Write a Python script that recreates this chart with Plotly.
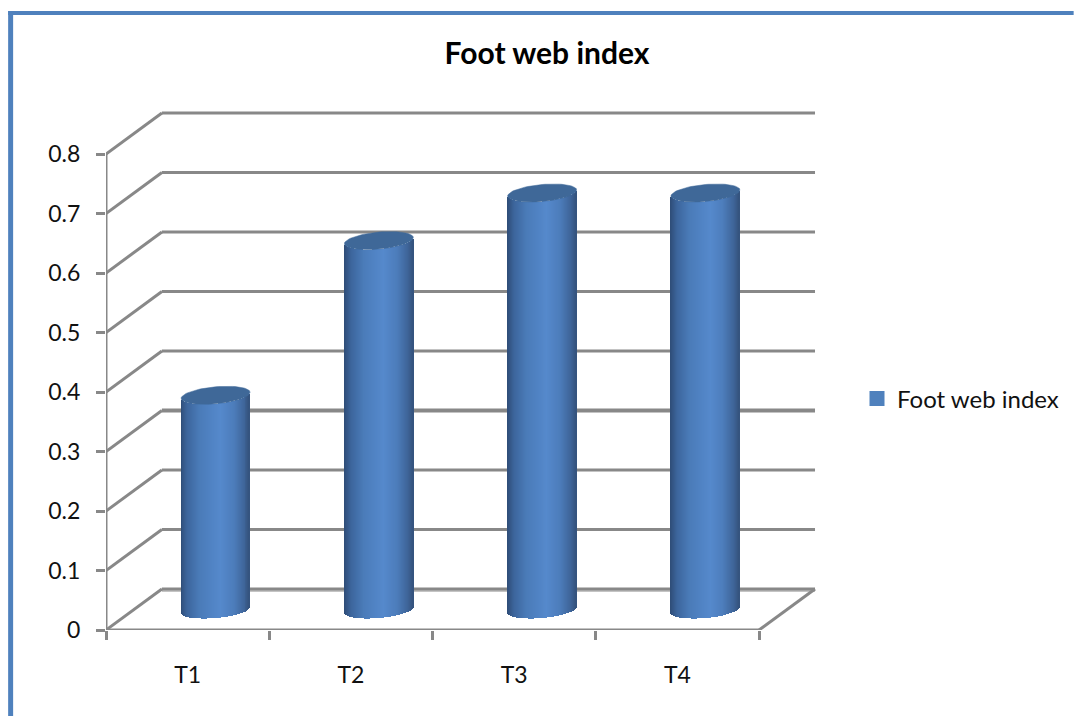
import numpy as np
import plotly.graph_objects as go

# Chart data
categories = ["T1", "T2", "T3", "T4"]
values = [0.36, 0.62, 0.70, 0.70]
y_ticks = [0, 0.1, 0.2, 0.3, 0.4, 0.5, 0.6, 0.7, 0.8]
series_name = "Foot web index"

# Page and plot frame, in pixels
W, H = 1075, 716
PLOT_L, PLOT_R, PLOT_T, PLOT_B = 106, 822, 100, 630
PX_PER_CAT = 163.5
PX_PER_UNIT = 595.0

# Oblique projection: how far the back wall sits from the front plane
DEPTH_DX = 56 / PX_PER_CAT
DEPTH_DY = 41 / PX_PER_UNIT

# Cylinder proportions
HALF_W = 34.5 / PX_PER_CAT
CAP_B = 8.5 / PX_PER_UNIT
CAP_TILT = 3 / PX_PER_UNIT
STRIPS = 70

GRID = "#888888"
BLUE = "#4F81BD"
CAP = "#3F6898"
FRAME = "#4F81BD"
FONT = "Lato, 'Noto Sans', sans-serif"

x_lo = -0.5
x_hi = x_lo + (PLOT_R - PLOT_L) / PX_PER_CAT
y_hi = (PLOT_B - PLOT_T) / PX_PER_UNIT
n_cat = len(categories)
x_front_r = n_cat - 0.5


def shade(t):
    """Horizontal cylinder shading for t in [-1, 1]."""
    stops_t = [-1.0, -0.8, -0.45, 0.15, 0.55, 0.85, 1.0]
    stops_c = [
        (46, 76, 118), (60, 101, 156), (74, 123, 184),
        (85, 137, 204), (76, 124, 186), (62, 100, 152), (52, 82, 124),
    ]
    return "rgb({},{},{})".format(
        *(int(round(np.interp(t, stops_t, [c[i] for c in stops_c]))) for i in range(3))
    )


def line(x0, y0, x1, y1, width=3, color=GRID):
    return dict(
        type="line", xref="x", yref="y", x0=x0, y0=y0, x1=x1, y1=y1,
        line=dict(color=color, width=width), layer="below",
    )


shapes = []

# Floor's lighter bottom edge on the back wall
shapes.append(line(x_lo + DEPTH_DX, DEPTH_DY - 2 / PX_PER_UNIT,
                   x_front_r + DEPTH_DX, DEPTH_DY - 2 / PX_PER_UNIT, 2, "#c4c4c4"))

# Side wall and back wall gridlines
for v in y_ticks:
    width = 4 if v == 0.3 else 3
    shapes.append(line(x_lo, v, x_lo + DEPTH_DX, v + DEPTH_DY))
    shapes.append(line(x_lo + DEPTH_DX, v + DEPTH_DY, x_front_r + DEPTH_DX, v + DEPTH_DY, width))

# Floor edges and front axis lines
shapes.append(line(x_front_r, 0, x_front_r + DEPTH_DX, DEPTH_DY))
shapes.append(line(x_lo, 0, x_front_r, 0, 3))
shapes.append(line(x_lo, 0, x_lo, y_ticks[-1]))


# Page frame: heavy rule along the left and top edges
def frame_rect(x0, y0, x1, y1):
    span_x = PLOT_R - PLOT_L
    span_y = PLOT_B - PLOT_T
    return dict(
        type="rect", xref="paper", yref="paper", layer="above",
        x0=(x0 - PLOT_L) / span_x, x1=(x1 - PLOT_L) / span_x,
        y0=(PLOT_B - y0) / span_y, y1=(PLOT_B - y1) / span_y,
        fillcolor=FRAME, line=dict(width=0),
    )


shapes.append(frame_rect(8, 11, 13, H))
shapes.append(frame_rect(8, 11, W, 15))

fig = go.Figure()

# Each cylinder is a run of narrow shaded bars with a rounded lower edge
ts = (np.arange(STRIPS) + 0.5) / STRIPS * 2 - 1
strip_w = 2 * HALF_W / STRIPS
base_center = DEPTH_DY / 2
for i, v in enumerate(values):
    cx = i + DEPTH_DX / 2
    curve = CAP_B * np.sqrt(1 - ts ** 2)
    tilt = CAP_TILT * ts
    fig.add_trace(go.Bar(
        x=cx + ts * HALF_W,
        y=np.full(STRIPS, float(v)),
        base=base_center + tilt - curve,
        width=strip_w * 1.25,
        marker=dict(color=[shade(t) for t in ts], line=dict(width=0)),
        showlegend=False,
        hoverinfo="skip",
    ))

# Elliptical top of each cylinder
theta = np.linspace(0, 2 * np.pi, 73)
for i, v in enumerate(values):
    cx = i + DEPTH_DX / 2
    cs, sn = np.cos(theta), np.sin(theta)
    fig.add_trace(go.Scatter(
        x=cx + HALF_W * cs,
        y=v + base_center + CAP_TILT * cs + CAP_B * sn,
        mode="lines",
        fill="toself",
        fillcolor=CAP,
        line=dict(color=CAP, width=0.5),
        showlegend=False,
        hoverinfo="skip",
    ))

# Legend entry
fig.add_trace(go.Scatter(
    x=[None], y=[None], mode="markers", name=series_name,
    marker=dict(symbol="square", size=15, color=BLUE),
))

fig.update_layout(
    width=W, height=H,
    autosize=False,
    margin=dict(l=PLOT_L, r=W - PLOT_R, t=PLOT_T, b=H - PLOT_B, pad=0),
    paper_bgcolor="white",
    plot_bgcolor="rgba(0,0,0,0)",
    barmode="overlay",
    bargap=0,
    font=dict(family=FONT, color="#111111"),
    title=dict(
        text="<b>Foot web index</b>",
        x=547 / W, y=1 - 53 / H, xanchor="center", yanchor="middle",
        font=dict(size=30, family=FONT, color="#000000"),
    ),
    xaxis=dict(
        range=[x_lo, x_hi],
        tickmode="array",
        tickvals=list(range(n_cat)),
        ticktext=categories,
        ticks="",
        ticklen=0,
        ticklabelstandoff=29,
        tickfont=dict(size=23, family=FONT, color="#111111"),
        showgrid=False,
        zeroline=False,
        showline=False,
        minor=dict(
            tickmode="array",
            tickvals=[k - 0.5 for k in range(n_cat + 1)],
            ticks="outside", ticklen=9, tickwidth=3, tickcolor=GRID,
            showgrid=False,
        ),
    ),
    yaxis=dict(
        range=[0, y_hi],
        tickmode="array",
        tickvals=y_ticks,
        ticktext=[f"{t:g}" for t in y_ticks],
        ticks="outside",
        ticklen=9,
        tickwidth=3,
        tickcolor=GRID,
        ticklabelstandoff=11,
        tickfont=dict(size=23, family=FONT, color="#111111"),
        showgrid=False,
        zeroline=False,
        showline=False,
    ),
    legend=dict(
        x=(857 - PLOT_L) / (PLOT_R - PLOT_L),
        y=(PLOT_B - 399) / (PLOT_B - PLOT_T),
        xanchor="left", yanchor="middle",
        font=dict(size=24, family=FONT, color="#111111"),
        bgcolor="rgba(0,0,0,0)",
        itemwidth=30,
    ),
    shapes=shapes,
)

fig.write_html("out.html")
